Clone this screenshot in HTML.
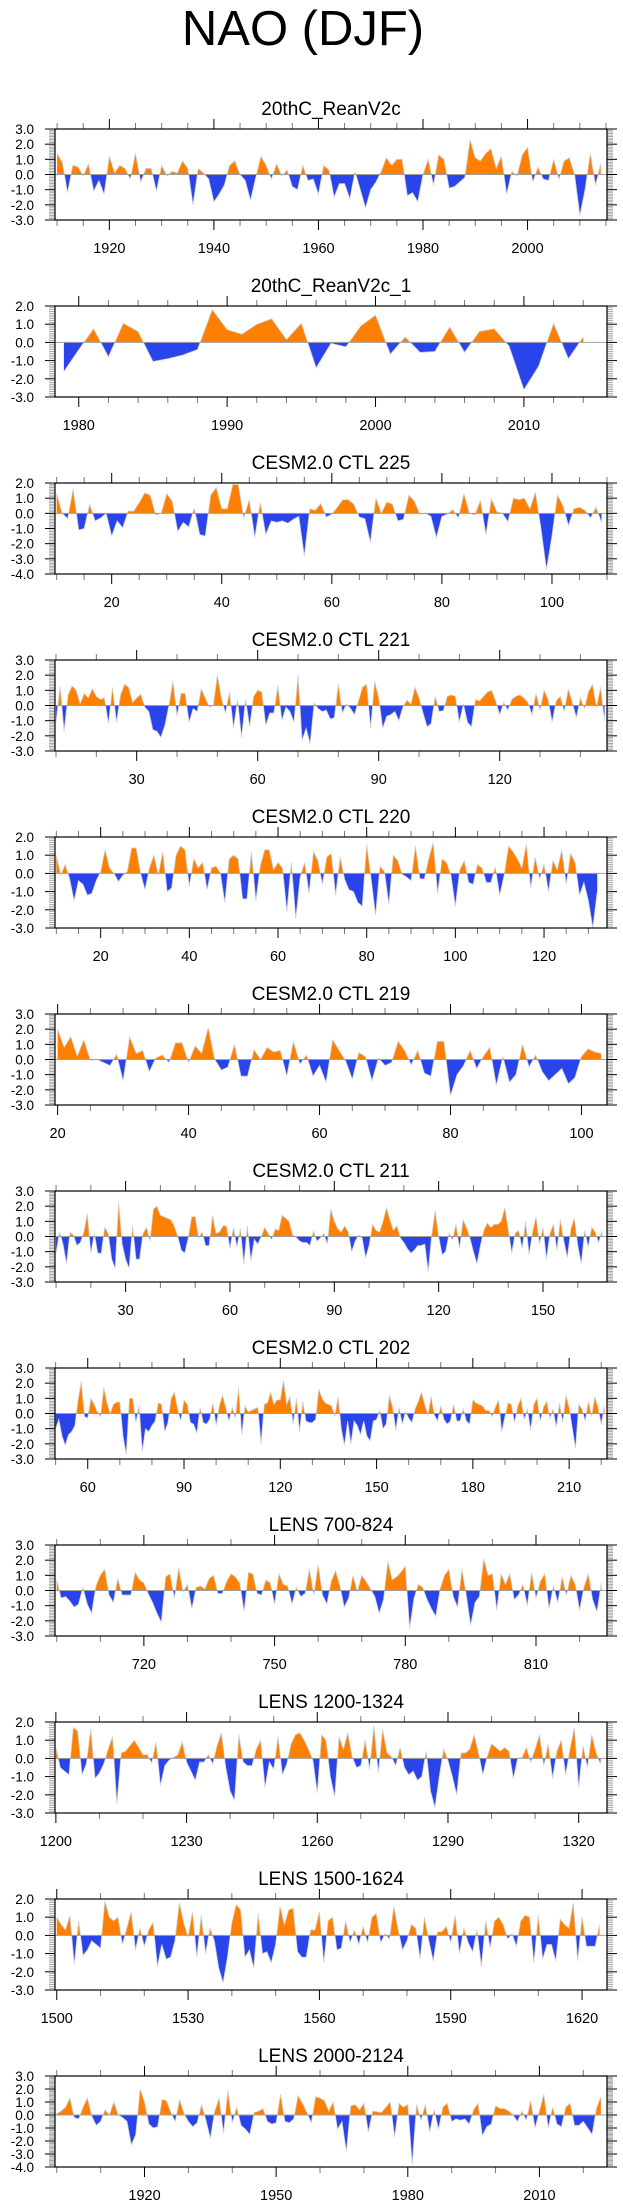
<!DOCTYPE html>
<html><head><meta charset="utf-8"><style>
html,body{margin:0;padding:0;background:#fff}
svg{display:block}
text{font-family:"Liberation Sans",Arial,sans-serif;fill:#000}
</style></head><body>
<svg id="fig" width="623" height="2209" viewBox="0 0 623 2209" xmlns="http://www.w3.org/2000/svg">
<text x="303" y="45" font-size="49" text-anchor="middle">NAO (DJF)</text>
</svg>
<script>
// ---- data ----
const titles = ["20thC_ReanV2c","20thC_ReanV2c_1","CESM2.0 CTL 225","CESM2.0 CTL 221","CESM2.0 CTL 220","CESM2.0 CTL 219","CESM2.0 CTL 211","CESM2.0 CTL 202","LENS 700-824","LENS 1200-1324","LENS 1500-1624","LENS 2000-2124"];
const startYears = [1910,1979,10,10,10,20,10,50,700,1200,1500,1900];
const vals1 = [1.4,0.8,-1.2,0.6,0.5,-0.1,0.7,-1.1,-0.4,-1.3,1.2,0.1,0.6,0.4,-0.3,1.4,-0.5,0.4,0.4,-1.1,0.6,-0.1,0.2,0.1,0.9,0.4,-2.0,0.4,0.1,-0.3,-1.8,-1.3,-0.7,0.6,0.9,0,-0.4,-1.7,-0.2,1.2,0.6,-0.3,0.7,-0.1,0.3,-0.8,-1.0,0.6,-0.4,-0.3,-1.3,0.6,0.3,-1.5,-0.6,-0.6,-1.6,0.2,-1.0,-2.2,-1.0,-0.5,0.2,1.1,0.6,1.0,1.0,-1.4,-1.2,-1.8,0,1.0,-0.7,1.3,1.0,-0.9,-0.8,-0.5,-0.2,2.3,1.1,0.9,1.4,1.7,0.4,1.2,-1.3,0.2,-0.1,1.3,1.8,-0.5,0.5,-0.3,-0.4,1.0,-0.3,0.9,1.1,0.0,-2.7,-1.0,1.4,-0.7,0.7];
const vals2 = [-1.6,-0.4,0.75,-0.8,1.05,0.6,-1.05,-0.9,-0.7,-0.4,1.8,0.7,0.45,1.0,1.3,0.15,1.05,-1.4,-0.05,-0.25,0.9,1.5,-0.65,0.3,-0.55,-0.5,0.85,-0.55,0.6,0.75,-0.2,-2.6,-1.3,1.05,-0.9,0.3];
const vals3 = [1.3,0,-0.35,1.6,-1.1,-1.0,0.6,-0.5,-0.3,0,-1.5,-0.5,-0.95,0.15,0.15,0.7,1.35,1.2,-0.1,0,1.3,0.8,-1.2,-0.6,-0.9,0.35,-1.4,-1.5,1.2,1.7,0.3,0.3,1.9,1.9,-0.3,0.9,-1.6,0.7,-1.4,-0.5,-0.6,-0.5,-0.65,-0.4,-0.2,-2.8,0.3,0.2,0.65,-0.25,-0.05,0.4,0.9,0.9,0.6,-0.25,-0.35,-1.9,1.0,0,0.75,0.6,-0.5,-0.4,1.2,0.8,-0.05,0,-0.2,-1.6,-0.2,-0.05,0.25,-0.3,1.3,0,-0.1,0.85,-1.4,0.95,0.1,0,-0.55,1.0,0.9,1.0,0.3,1.4,-1.0,-3.7,-1.5,1.2,0.5,-0.8,0.3,0.4,0.2,-0.3,0.4,-0.6];
const vals4 = [-1.1,1.3,-1.7,0.7,1.3,1.0,0.1,0.8,0.5,1.1,0.6,0.4,0.5,-1.2,1.2,-1.1,0.7,1.4,1.2,0.2,0.5,0.75,-0.1,-0.4,-1.6,-1.7,-2.1,-1.3,0,1.6,-0.7,0.8,0.8,-1.1,-0.2,-0.4,1.1,0.5,-0.1,0,2.0,0.5,-0.5,0.9,-1.5,0.4,-2.1,0.4,-1.4,0.6,1.0,0.9,-1.3,-0.5,-0.5,1.3,-1.0,-0.1,-0.4,-1.1,2.0,-2.3,-1.5,-2.5,0.15,-0.2,-0.4,-0.3,-0.9,-0.8,1.4,-0.5,0.1,-0.2,-0.6,0.3,1.2,1.4,-1.5,1.6,0.5,-1.5,-0.7,-0.6,-0.4,-1.0,-0.1,0.35,0.1,1.2,0.5,-0.5,-1.4,-1.2,0.6,-0.4,-0.35,0.6,0.7,0.6,-1.1,0.1,-1.1,-1.4,0.4,0.3,0.6,0.9,1.0,0.3,-0.6,0.2,-0.3,0.4,0.6,0.7,0.5,0.2,-0.6,0.8,-0.3,1.0,0.4,-1.1,0.3,0.6,-0.4,1.1,0.2,-0.8,0.5,-0.2,0.9,1.4,-0.1,1.2,-1.0];
const vals5 = [1.0,-0.1,0.5,-0.3,-1.5,-0.4,-0.6,-1.2,-1.1,-0.4,0.1,1.3,0.3,0,-0.45,-0.1,0.1,1.4,1.4,0,-0.9,0.3,1.0,-0.1,1.2,-1.0,-0.8,1.0,1.5,1.3,-0.7,0.8,0.3,0.6,-0.9,0.3,0.4,0,-1.6,0.8,1.0,0.8,-1.4,-1.4,1.2,-1.5,0.4,1.3,1.3,0.2,0.6,0.3,-2.1,0.6,-2.5,-0.2,0.6,-1.1,1.2,0.7,-0.6,0.9,1.1,-1.2,0.9,-0.3,-0.9,-1.0,-1.6,-1.8,1.6,-0.3,-2.3,0.4,0.1,-1.7,1.0,0.7,-0.05,-0.2,-0.4,1.5,-0.3,-0.3,0.8,1.7,-1.1,0.8,0.6,-0.1,-1.8,0.2,0.7,-0.5,-0.6,0.5,0.3,-0.5,-0.5,0.35,-1.2,-0.1,1.5,1.2,0.8,0.3,1.6,-0.8,0.9,-0.3,0.5,-1.0,0.7,0.2,1.3,-0.6,1.1,0.6,-1.2,-0.5,-1.5,-3.0,-1.0];
const vals6 = [2.0,0.8,1.5,0.2,1.3,-0.05,0,-0.2,-0.4,0.35,-1.4,1.5,0.4,0.6,-0.8,0.1,0.3,-0.2,1.1,1.1,-0.2,0.9,0.4,2.1,0,-0.7,-0.5,1.0,-1.1,-1.1,0.65,0,0.8,0.5,0.6,-1.1,1.2,-0.3,0.3,-1.1,-0.4,-1.5,1.3,0.6,-0.1,-1.3,0.45,0.2,-1.4,0.1,-0.4,-0.2,1.2,0.6,-0.35,0.6,-0.9,-1.1,1.2,1.2,-2.4,-1.0,-0.4,0.6,-0.6,0.2,0.8,-1.7,0.2,-1.5,-1.0,1.0,-0.5,0.3,-0.8,-1.4,-1.0,-0.6,-1.6,-1.2,0.2,0.7,0.5,0.4];
const vals7 = [-1.1,0.3,-0.5,-1.8,0.25,0.1,-0.6,-0.4,0.3,1.5,-1.1,0.2,-1.1,-1.1,0.6,0.2,-1.5,-2.1,2.3,-0.5,-1.5,-2.1,0.7,-1.5,-1.5,0.2,0.6,-0.3,1.8,2.0,1.4,1.3,1.2,1.1,0.7,0,-0.9,-1.1,-0.1,1.3,1.3,-0.1,0.3,-0.6,-0.6,1.4,0.2,0.3,0.7,0.7,-0.8,0.6,-0.7,0.5,-1.8,0.7,-1.6,-0.2,-0.5,0,0.6,0.2,-0.2,0.5,0.4,1.4,1.2,1.0,0.1,-0.05,-0.3,-0.4,-0.4,-0.6,0.35,-0.3,-0.1,0.2,-0.5,1.8,1.0,0.5,0.3,0.7,0.3,-1.0,-0.3,0.1,-0.1,-1.4,-0.6,0.8,0.4,0.3,1.0,1.9,1.1,0.4,0.7,-0.1,-0.4,-0.8,-1.1,-0.9,-0.6,-0.6,-0.5,-2.3,0.1,1.7,0,-1.2,-1.0,0.2,-0.2,0.8,-0.8,1.1,0.6,-0.1,-1.0,-1.8,-0.6,0.4,0.9,0.6,0.8,0.8,1.0,1.9,0.5,-1.1,0.2,0.4,-0.8,1.0,-1.2,0.3,1.3,-0.5,0.6,-1.5,0.2,0.8,-0.9,1.1,-0.3,-1.4,0.5,1.2,-0.6,-1.8,0.4,-0.7,0.6,0.3,-0.4,0.4];
const vals8 = [-1.0,-0.4,-1.5,-2.1,-1.4,-1.2,-0.8,0.9,2.1,-0.2,-0.3,1.0,0.6,0.1,-0.2,1.7,0.7,0,0.6,0.75,0.75,-1.5,-2.7,1.0,1.0,-0.6,0.5,-2.5,-1.0,-1.2,-0.8,-0.5,0.7,0.6,-1.2,-0.6,1.0,1.4,0.3,-0.5,0.9,0.6,-0.6,-0.7,-1.3,0.4,-0.6,-0.7,-0.4,0.7,-0.8,0.5,1.2,0.4,-0.5,0.4,-0.3,1.7,-1.4,0.5,0.1,0.2,0.3,0.4,-2.0,0.6,0.7,1.4,0.6,0.9,0.9,2.2,0.6,1.1,-0.7,1.0,-1.2,0.8,-0.5,-0.6,-0.6,-0.4,1.6,1.0,0.7,0.6,0.5,-0.2,1.1,-1.0,-2.1,-0.5,-2.0,-0.5,-0.8,-1.4,-0.5,-1.5,-1.8,-0.5,-0.4,0.2,-1.0,-0.7,1.2,0.4,-1.1,0.4,-0.7,0.1,-0.3,-0.6,0.3,0.8,1.4,0.6,-0.1,1.1,-0.1,-0.5,0.5,-0.4,-0.7,-0.5,0.6,-0.5,-0.5,0.3,-0.5,-0.7,0.9,0.7,0.6,0.5,0.2,0.2,-0.2,0.4,0.9,-1.2,-0.2,0.7,0.6,-0.6,0.5,1.0,-0.4,0.3,-1.1,0.6,1.0,-0.5,0.4,0.8,-0.3,0.3,-0.9,0.7,-0.6,1.2,0.4,-1.0,-2.3,0.6,0.3,-0.5,0.8,-0.2,1.1,0.4,-0.7,0.5];
const vals9 = [0.7,-0.5,-0.4,-0.7,-1.1,-0.9,0.2,-0.9,-1.5,0.3,1.0,1.4,-0.3,-0.8,0.8,-0.3,-0.3,-0.3,1.2,0.7,0.5,-0.2,-0.8,-1.5,-2.1,0.9,1.1,-0.5,1.5,-0.1,0.4,-1.2,0.2,0.3,0.1,0.8,1.0,-0.2,-0.2,0.6,1.1,0.9,0.5,-1.4,1.2,1.1,-0.2,-0.3,0.7,0.5,-0.9,1.1,0.4,0.3,-0.9,0.2,-0.4,-0.2,1.4,-0.3,1.7,-0.3,-0.9,0.6,1.3,0.3,-1.1,-0.5,1.0,-0.1,1.0,0.6,0.1,-0.4,-1.5,-0.6,1.9,0.7,0.9,1.2,1.6,-2.5,-0.5,0.4,0.2,-0.6,-1.2,-1.7,0.1,1.0,1.4,-0.4,-1.1,1.4,-0.3,-2.3,-0.8,-0.4,2.1,1.0,1.1,-1.3,1.1,0.4,1.1,-0.6,-0.3,0.4,-1.0,1.2,-0.5,0.6,1.1,-1.2,0.3,-0.8,0.9,-0.3,1.0,0.4,-1.3,0.2,1.1,-0.6,-1.4,0.5];
const vals10 = [0.6,-0.5,-0.7,-0.9,1.7,1.5,-0.9,-0.3,1.6,-1.1,-0.8,-0.3,0.5,1.2,-2.5,0.3,0.4,0.7,1.0,0.6,0.2,0.2,-0.25,0.9,-1.5,-0.4,-0.1,0.05,0.2,0.9,-0.2,-0.7,-1.2,-0.2,-0.2,0.2,-0.3,0.7,1.4,-0.5,-1.8,-2.3,1.3,-0.2,-0.4,-0.4,0.5,1.0,-1.6,-0.2,-0.6,1.2,-0.9,-0.3,0.8,1.3,1.4,1.0,0.5,-0.1,-1.9,1.3,1.0,-1.0,-2.1,1.2,0.5,1.4,0.1,-0.5,-0.4,1.0,-0.6,1.8,-0.8,1.6,0.3,0.1,-0.4,0.6,-0.5,-0.9,-0.7,-1.2,-1.0,0.4,-1.8,-2.7,-1.0,0.5,-0.1,-1.0,-2.0,0.3,0.3,0.5,1.3,0.3,-0.9,0.1,0.8,0.6,0.4,0.6,0.4,-1.1,0,0.05,0.6,-0.2,0.5,1.3,-0.4,0.8,-1.1,0.4,1.0,-0.9,0.5,1.7,-1.6,0.7,-0.5,1.3,0.3,-0.3];
const vals11 = [1.0,0.6,0.3,1.1,-1.6,0.8,-1.1,-0.8,-0.3,-0.5,-0.7,1.9,1.0,0.8,1.0,-0.5,0.4,1.3,-0.8,0.4,-0.6,0.3,0.7,-1.7,-0.5,-1.3,-1.2,-0.3,1.8,0.7,-0.1,1.3,-1.2,1.1,-1.0,0.4,-0.3,-1.8,-2.6,-1.2,0.7,1.7,1.4,-1.2,-0.8,-1.8,1.2,-1.0,-0.9,-1.5,-0.5,1.6,0.6,1.4,1.5,-0.9,-1.2,-1.2,0.3,0.3,1.3,-1.5,0.8,1.0,-0.8,-0.7,0.8,-0.4,0.3,-0.5,0.5,-0.4,1.0,1.2,-0.4,0.1,-0.2,1.6,0.3,-0.8,-0.3,0.6,0.4,-1.3,1.0,-0.3,-1.4,0.2,0.2,0.5,-0.4,1.1,-1.0,0.4,-0.4,-0.9,0.3,-1.7,0.8,-0.7,0.8,1.0,0.6,-0.2,0.1,-0.6,0.8,1.1,1.0,-1.5,1.1,-1.3,-0.5,-0.5,-1.4,0.9,0.6,0.4,1.8,-1.4,1.0,-0.6,-0.6,-0.6,0.6];
const vals12 = [0.1,0.3,0.6,1.3,-0.2,-0.3,0.6,1.3,-0.1,-0.8,-0.5,0.4,0,1.0,0,-0.2,-0.5,-2.3,-1.5,2.0,1.0,-0.7,-1.0,-0.9,1.2,1.1,0.2,-0.5,1.2,0.1,-0.5,-0.9,-0.6,0.8,-0.4,-1.8,0.3,1.3,-1.4,1.9,-0.6,0.6,-0.8,-1.1,-1.5,0.2,0.3,0.5,-0.5,-0.7,-0.6,1.6,-0.5,-0.6,-0.3,1.5,0.9,0.2,-0.6,1.4,1.3,1.1,0.3,1.0,-1.1,-0.5,-2.8,0.7,0.8,0.4,0.9,-1.3,0.3,0.25,0.2,0.6,1.0,-1.7,0.9,0.6,0.8,-3.8,0.8,-0.4,0.8,-1.3,0.4,-1.1,0.6,0.9,-0.5,-0.3,-0.4,-0.3,-0.7,0.4,0.9,-1.6,-0.9,-0.7,0.7,0.5,0.5,0.3,0,-0.5,0.3,-0.4,1.1,-1.0,0.3,1.6,-1.0,0.6,-0.7,-0.9,0.6,0.9,-0.8,-0.8,-0.5,-1.0,-1.5,0.5,1.4];
const series = [vals1,vals2,vals3,vals4,vals5,vals6,vals7,vals8,vals9,vals10,vals11,vals12];
const xTickLabels = [[1920,1940,1960,1980,2000],[1980,1990,2000,2010],[20,40,60,80,100],[30,60,90,120],[20,40,60,80,100,120],[20,40,60,80,100],[30,60,90,120,150],[60,90,120,150,180,210],[720,750,780,810],[1200,1230,1260,1290,1320],[1500,1530,1560,1590,1620],[1920,1950,1980,2010]];
const yRanges = [[-3,3],[-3,2],[-4,2],[-3,3],[-3,2],[-3,3],[-3,3],[-3,3],[-3,3],[-3,2],[-3,2],[-4,3]];
// axis extents (x domain) and minor spacing
const xDomains = [[1909.6,2015.2],[1978.4,2015.6],[9.7,110],[9.75,146.6],[9.7,134.2],[19.6,103.9],[9.7,168.4],[49.8,221.8],[699.6,826.3],[1199.8,1326.5],[1499.6,1625.7],[1899.6,2025.4]];
const minorSteps = [5,2,5,10,5,5,10,10,10,10,10,10];

const NS="http://www.w3.org/2000/svg";
const svg=document.getElementById('fig');
const L=55,R=607,PH=91,TOP0=129,GAP=177;
const ORANGE="#ff8000",BLUE="#2a44eb";
function mk(tag,attrs,parent){const e=document.createElementNS(NS,tag);for(const k in attrs)e.setAttribute(k,attrs[k]);(parent||svg).appendChild(e);return e;}

series.forEach((vals,i)=>{
  const top=TOP0+GAP*i, bot=top+PH;
  const [x0,x1]=xDomains[i], [y0,y1]=yRanges[i];
  const sx=v=>L+(v-x0)/(x1-x0)*(R-L);
  const sy=v=>bot-(v-y0)/(y1-y0)*PH;
  const g=mk('g',{});
  
  
  const t=mk('text',{x:(L+R)/2,y:top-14,'font-size':19,'text-anchor':'middle'},g);
  t.textContent=titles[i];
  
  
  const z=sy(0);
  // clip paths
  const cu=mk('clipPath',{id:'cu'+i},g); mk('rect',{x:L,y:top,width:R-L,height:z-top},cu);
  const cd=mk('clipPath',{id:'cd'+i},g); mk('rect',{x:L,y:z,width:R-L,height:bot-z},cd);
  const pts=vals.map((v,k)=>[sx(startYears[i]+k),sy(v)]);
  let d='M'+pts[0][0].toFixed(2)+','+z.toFixed(2);
  pts.forEach(p=>{d+='L'+p[0].toFixed(2)+','+p[1].toFixed(2);});
  d+='L'+pts[pts.length-1][0].toFixed(2)+','+z.toFixed(2)+'Z';
  const fu=mk('path',{d:d,fill:ORANGE,'clip-path':'url(#cu'+i+')'},g);
  
  
  const fd=mk('path',{d:d,fill:BLUE,'clip-path':'url(#cd'+i+')'},g);
  
  
  const ln=mk('polyline',{points:pts.map(p=>p[0].toFixed(2)+','+p[1].toFixed(2)).join(' '),fill:'none',stroke:'#d0d0d0','stroke-width':0.8},g);
  
  
  const zl=mk('line',{x1:L,x2:R,y1:z,y2:z,stroke:'#a0a0a0','stroke-width':1},g);
  
  
  // y ticks
  for(let k=Math.round(y0*10);k<=Math.round(y1*10);k++){
    const v=k/10,y=sy(v),maj=(k%10===0);
    const c=maj?'#000':'#999',len=maj?10:6;
    mk('line',{x1:L-len,x2:L,y1:y,y2:y,stroke:c,'stroke-width':maj?1:0.8},g);
    mk('line',{x1:R,x2:R+len,y1:y,y2:y,stroke:c,'stroke-width':maj?1:0.8},g);
    if(maj){
      const tl=mk('text',{x:34,y:y+5,'font-size':13.5,'text-anchor':'end'},g);
      tl.textContent=v.toFixed(1);
      
      
    }
  }
  // x ticks
  const ms=minorSteps[i];
  for(let v=Math.ceil(x0/ms)*ms;v<=x1;v+=ms){
    const x=sx(v),maj=xTickLabels[i].includes(v);
    const len=maj?10:6,c=maj?'#000':'#777';
    mk('line',{x1:x,x2:x,y1:bot,y2:bot+len,stroke:c,'stroke-width':1},g);
    mk('line',{x1:x,x2:x,y1:top-len,y2:top,stroke:c,'stroke-width':1},g);
  }
  xTickLabels[i].forEach(v=>{
    const tl=mk('text',{x:sx(v),y:bot+33,'font-size':14.5,'text-anchor':'middle'},g);
    tl.textContent=v;
    
    
  });
  const fr=mk('rect',{x:L,y:top,width:R-L,height:PH,fill:'none',stroke:'#000','stroke-width':1.2},g);
  
  
});
</script>
</body></html>
